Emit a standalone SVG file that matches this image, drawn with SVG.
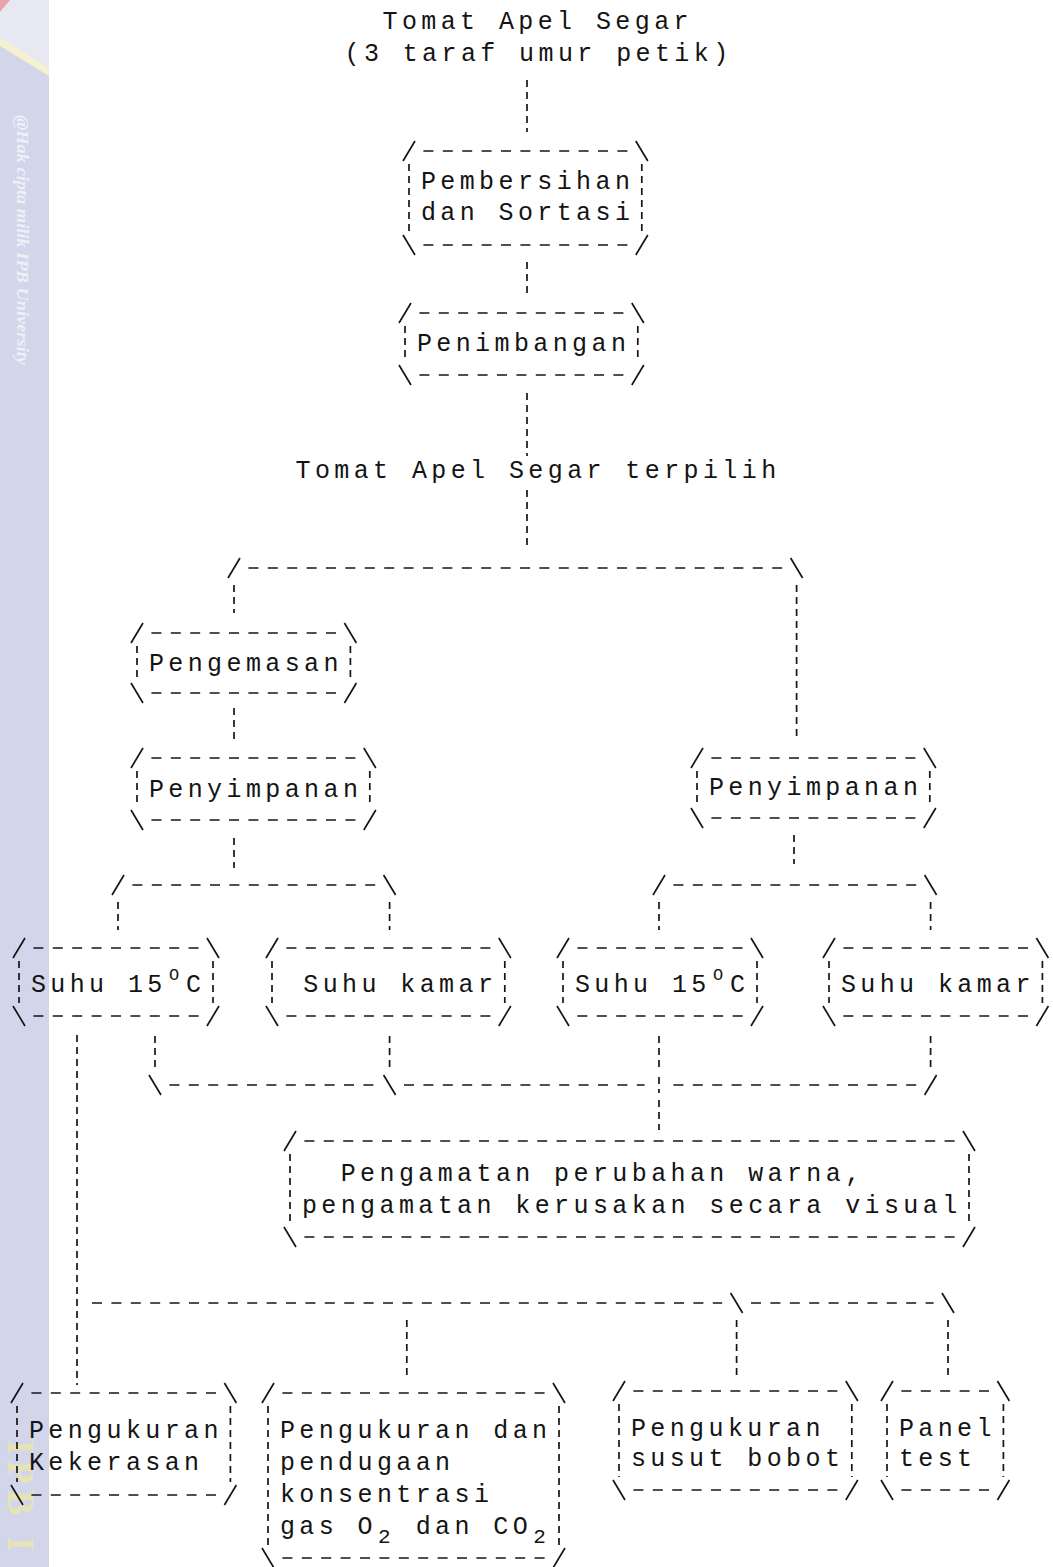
<svg xmlns="http://www.w3.org/2000/svg" width="1053" height="1567" viewBox="0 0 1053 1567">
<style>
.ink{stroke:#161616;stroke-width:1.7;fill:none;stroke-linecap:butt}
.dh{stroke-dasharray:10 9.4}
.dv{stroke-dasharray:7 5}
text{font-family:"Liberation Mono","DejaVu Sans Mono",monospace;font-size:25px;letter-spacing:4.4px;fill:#141414}
.sup{font-size:17px;letter-spacing:0}
.sub{font-size:21px;letter-spacing:0}
</style>
<rect width="1053" height="1567" fill="#ffffff"/>
<g id="watermark">
<rect x="0" y="0" width="49" height="1567" fill="#d3d6ea"/>
<polygon points="0,0 49,0 49,72 0,40" fill="#e7e8f2"/>
<polygon points="0,38 49,68 49,76 0,46" fill="#f3f1cf"/>
<polygon points="0,0 10,0 0,12" fill="#e9a3ab"/>
<text x="0" y="0" transform="translate(17 115) rotate(90)" textLength="250" lengthAdjust="spacingAndGlyphs" style="font-family:'Liberation Serif',serif;font-style:italic;font-weight:bold;font-size:16px;letter-spacing:0;fill:#eef0f8">@Hak cipta milik IPB University</text>
<text x="0" y="0" transform="translate(8 1440) rotate(90)" style="font-family:'Liberation Serif',serif;font-weight:bold;font-size:38px;letter-spacing:6px;fill:#e6e4b4">IPB I</text>
</g>
<g id="connectors" class="ink">
<path class="dv" d="M527 80V132M527 262V293M527 393V456M527 490V548M234 585V613M796.6 585V740M234 708V740M234 838V868M794 835V864M118 902V930M389.6 902V930M659 902V930M930.6 902V930M77 1035V1385M155 1036V1068M389.6 1036V1068M659 1036V1068M930.6 1036V1068M659 1077V1093M659 1100V1130M406.8 1320V1380M736.6 1320V1378M948 1320V1378"/>
<path class="dh" d="M248.4 568H782.2M132.4 885H375.2M673.4 885H916.2M169.4 1085H375.2M404 1085H644.6M673.4 1085H916.2M92 1303H722.2M751 1303H933.6"/>
<path d="M228 578L240 558M790.6 558L802.6 578M112 895L124 875M383.6 875L395.6 895M653 895L665 875M924.6 875L936.6 895M149 1075L161 1095M383.6 1075L395.6 1095M924.6 1095L936.6 1075M730.6 1293L742.6 1313M942 1293L954 1313"/>
</g>
<g id="n-tomat-apel-segar">
<text x="382.5" y="29">Tomat Apel Segar</text>
<text x="344.5" y="61">(3 taraf umur petik)</text>
</g>
<g id="n-pembersihan">
<path class="ink" d="M403 161L415 141M635.8 141L647.8 161M403 235L415 255M635.8 255L647.8 235"/>
<path class="ink dh" d="M423.4 151H627.4M423.4 245H627.4"/>
<path class="ink dv" d="M409 164V232M641.8 164V232"/>
<text x="420.9" y="189">Pembersihan</text>
<text x="420.9" y="220">dan Sortasi</text>
</g>
<g id="n-penimbangan">
<path class="ink" d="M399 323L411 303M631.8 303L643.8 323M399 365L411 385M631.8 385L643.8 365"/>
<path class="ink dh" d="M419.4 313H623.4M419.4 375H623.4"/>
<path class="ink dv" d="M405 326V362M637.8 326V362"/>
<text x="416.9" y="351">Penimbangan</text>
</g>
<g id="n-terpilih">
<text x="295.5" y="478">Tomat Apel Segar terpilih</text>
</g>
<g id="n-pengemasan">
<path class="ink" d="M131 643L143 623M344.4 623L356.4 643M131 683L143 703M344.4 703L356.4 683"/>
<path class="ink dh" d="M151.4 633H336M151.4 693H336"/>
<path class="ink dv" d="M137 646V680M350.4 646V680"/>
<text x="148.9" y="671">Pengemasan</text>
</g>
<g id="n-penyimpanan-1">
<path class="ink" d="M131 768L143 748M363.8 748L375.8 768M131 810L143 830M363.8 830L375.8 810"/>
<path class="ink dh" d="M151.4 758H355.4M151.4 820H355.4"/>
<path class="ink dv" d="M137 771V807M369.8 771V807"/>
<text x="148.9" y="797">Penyimpanan</text>
</g>
<g id="n-penyimpanan-2">
<path class="ink" d="M691 768L703 748M923.8 748L935.8 768M691 808L703 828M923.8 828L935.8 808"/>
<path class="ink dh" d="M711.4 758H915.4M711.4 818H915.4"/>
<path class="ink dv" d="M697 771V805M929.8 771V805"/>
<text x="708.9" y="795">Penyimpanan</text>
</g>
<g id="n-suhu15-1">
<path class="ink" d="M13 958L25 938M207 938L219 958M13 1006L25 1026M207 1026L219 1006"/>
<path class="ink dh" d="M33.4 948H198.6M33.4 1016H198.6"/>
<path class="ink dv" d="M19 961V1003M213 961V1003"/>
<text x="30.9" y="992">Suhu 15</text>
<text x="169.1" y="980" class="sup">O</text>
<text x="186.1" y="992">C</text>
</g>
<g id="n-suhukamar-1">
<path class="ink" d="M266 958L278 938M498.8 938L510.8 958M266 1006L278 1026M498.8 1026L510.8 1006"/>
<path class="ink dh" d="M286.4 948H490.4M286.4 1016H490.4"/>
<path class="ink dv" d="M272 961V1003M504.8 961V1003"/>
<text x="303.3" y="992">Suhu kamar</text>
</g>
<g id="n-suhu15-2">
<path class="ink" d="M557 958L569 938M751 938L763 958M557 1006L569 1026M751 1026L763 1006"/>
<path class="ink dh" d="M577.4 948H742.6M577.4 1016H742.6"/>
<path class="ink dv" d="M563 961V1003M757 961V1003"/>
<text x="574.9" y="992">Suhu 15</text>
<text x="713.1" y="980" class="sup">O</text>
<text x="730.1" y="992">C</text>
</g>
<g id="n-suhukamar-2">
<path class="ink" d="M823 958L835 938M1036.4 938L1048.4 958M823 1006L835 1026M1036.4 1026L1048.4 1006"/>
<path class="ink dh" d="M843.4 948H1028M843.4 1016H1028"/>
<path class="ink dv" d="M829 961V1003M1042.4 961V1003"/>
<text x="840.9" y="992">Suhu kamar</text>
</g>
<g id="n-pengamatan">
<path class="ink" d="M284 1151L296 1131M963 1131L975 1151M284 1227L296 1247M963 1247L975 1227"/>
<path class="ink dh" d="M304.4 1141H954.6M304.4 1237H954.6"/>
<path class="ink dv" d="M290 1154V1224M969 1154V1224"/>
<text x="340.7" y="1181">Pengamatan perubahan warna,</text>
<text x="301.9" y="1213">pengamatan kerusakan secara visual</text>
</g>
<g id="n-kekerasan">
<path class="ink" d="M11 1403L23 1383M224.4 1383L236.4 1403M11 1485L23 1505M224.4 1505L236.4 1485"/>
<path class="ink dh" d="M31.4 1393H216M31.4 1495H216"/>
<path class="ink dv" d="M17 1406V1482M230.4 1406V1482"/>
<text x="28.9" y="1438">Pengukuran</text>
<text x="28.9" y="1470">Kekerasan</text>
</g>
<g id="n-gas">
<path class="ink" d="M262 1403L274 1383M553 1383L565 1403M262 1548L274 1568M553 1568L565 1548"/>
<path class="ink dh" d="M282.4 1393H544.6M282.4 1558H544.6"/>
<path class="ink dv" d="M268 1406V1545M559 1406V1545"/>
<text x="279.9" y="1438">Pengukuran dan</text>
<text x="279.9" y="1470">pendugaan</text>
<text x="279.9" y="1502">konsentrasi</text>
<text x="279.9" y="1534">gas O</text>
<text x="378.1" y="1543" class="sub">2</text>
<text x="415.7" y="1534">dan CO</text>
<text x="533.3" y="1543" class="sub">2</text>
</g>
<g id="n-susut-bobot">
<path class="ink" d="M613 1401L625 1381M845.8 1381L857.8 1401M613 1480L625 1500M845.8 1500L857.8 1480"/>
<path class="ink dh" d="M633.4 1391H837.4M633.4 1490H837.4"/>
<path class="ink dv" d="M619 1404V1477M851.8 1404V1477"/>
<text x="630.9" y="1436">Pengukuran</text>
<text x="630.9" y="1466">susut bobot</text>
</g>
<g id="n-panel-test">
<path class="ink" d="M881 1401L893 1381M997.4 1381L1009.4 1401M881 1480L893 1500M997.4 1500L1009.4 1480"/>
<path class="ink dh" d="M901.4 1391H989M901.4 1490H989"/>
<path class="ink dv" d="M887 1404V1477M1003.4 1404V1477"/>
<text x="898.9" y="1436">Panel</text>
<text x="898.9" y="1466">test</text>
</g>
</svg>
